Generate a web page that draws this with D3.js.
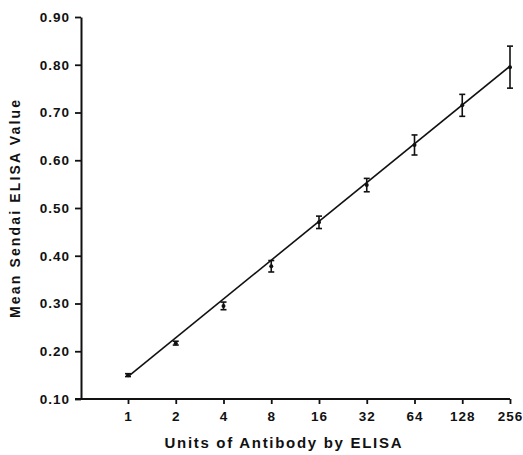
<!DOCTYPE html>
<html>
<head>
<meta charset="utf-8">
<script src="https://cdn.jsdelivr.net/npm/d3@7"></script>
<style>
  body { margin: 0; background: #fff; }
  svg { display: block; }
  text { font-family: "Liberation Sans", Arial, sans-serif; font-weight: bold; fill: #111; }
</style>
</head>
<body>
<svg id="chart" width="523" height="455"></svg>
<script>
// antibody units (x) and mean Sendai ELISA value (y) with error half-width
const units = [1, 2, 4, 8, 16, 32, 64, 128, 256];
const meanValues = [0.150, 0.217, 0.295, 0.378, 0.470, 0.548, 0.632, 0.715, 0.795];
const errValues = [0.003, 0.004, 0.008, 0.012, 0.013, 0.014, 0.021, 0.023, 0.044];
// fitted regression line endpoints
const fitUnits = [1, 256];
const fitValues = [0.147, 0.797];
const yTicks = [0.10, 0.20, 0.30, 0.40, 0.50, 0.60, 0.70, 0.80, 0.90];

const svg = d3.select('#chart');

const x = d3.scaleLog().base(2)
  .domain([1, 256])
  .range([128, 510]);

const y = d3.scaleLinear()
  .domain([0.1, 0.9])
  .range([399, 17]);

// y axis
const yAxis = d3.axisLeft(y)
  .tickValues(yTicks)
  .tickFormat(d3.format('.2f'))
  .tickSize(6)
  .tickSizeOuter(0)
  .tickPadding(5);

const gy = svg.append('g')
  .attr('transform', 'translate(81,0)')
  .call(yAxis);

// x axis
const xAxis = d3.axisBottom(x)
  .tickValues(units)
  .tickFormat(d3.format('d'))
  .tickSize(5)
  .tickSizeOuter(0)
  .tickPadding(7);

const gx = svg.append('g')
  .attr('transform', 'translate(0,399)')
  .call(xAxis);

// extend x axis line to meet y axis
gx.select('.domain').attr('d', `M75,0H${x(256)}`);

[gx, gy].forEach(g => {
  g.select('.domain').attr('stroke', '#111').attr('stroke-width', 2);
  g.selectAll('.tick line').attr('stroke', '#111').attr('stroke-width', 1.8);
  g.selectAll('.tick text')
    .style('font-size', '13.5px')
    .style('letter-spacing', '1px')
    .attr('fill', '#111');
});

// regression line
const line = d3.line()
  .x(d => x(d[0]))
  .y(d => y(d[1]));

svg.append('path')
  .datum(fitUnits.map((u, i) => [u, fitValues[i]]))
  .attr('d', line)
  .attr('fill', 'none')
  .attr('stroke', '#111')
  .attr('stroke-width', 1.6);

// error bars
const pts = units.map((u, i) => ({ u, m: meanValues[i], e: errValues[i] }));
const eb = svg.append('g').selectAll('g')
  .data(pts)
  .enter()
  .append('g')
  .attr('stroke', '#111')
  .attr('stroke-width', 1.6);

eb.append('line')
  .attr('x1', d => x(d.u)).attr('x2', d => x(d.u))
  .attr('y1', d => y(d.m - d.e)).attr('y2', d => y(d.m + d.e));
eb.append('line')
  .attr('x1', d => x(d.u) - 3).attr('x2', d => x(d.u) + 3)
  .attr('y1', d => y(d.m + d.e)).attr('y2', d => y(d.m + d.e));
eb.append('line')
  .attr('x1', d => x(d.u) - 3).attr('x2', d => x(d.u) + 3)
  .attr('y1', d => y(d.m - d.e)).attr('y2', d => y(d.m - d.e));

svg.append('g').selectAll('circle')
  .data(pts)
  .enter()
  .append('circle')
  .attr('cx', d => x(d.u))
  .attr('cy', d => y(d.m))
  .attr('r', 2)
  .attr('fill', '#111');

// axis titles
svg.append('text')
  .attr('x', 283)
  .attr('y', 448)
  .attr('text-anchor', 'middle')
  .attr('textLength', 237)
  .style('font-size', '15px')
  .text('Units of Antibody by ELISA');

svg.append('text')
  .attr('transform', 'translate(20,209) rotate(-90)')
  .attr('text-anchor', 'middle')
  .attr('textLength', 218)
  .style('font-size', '14px')
  .text('Mean Sendai ELISA Value');
</script>
</body>
</html>
